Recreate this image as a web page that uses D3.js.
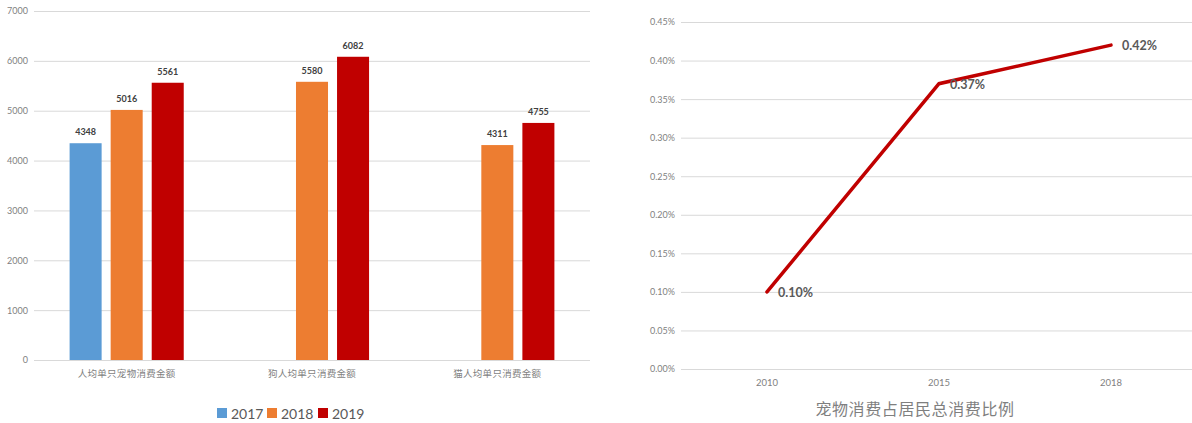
<!DOCTYPE html>
<html>
<head>
<meta charset="utf-8">
<script src="https://cdn.jsdelivr.net/npm/d3@7"></script>
<style>
  html, body { margin: 0; padding: 0; background: #fff; }
  svg { display: block; }
  .tick text { font-family: Lato, "Open Sans", sans-serif; }
</style>
</head>
<body>
<svg id="chart" width="1192" height="423"></svg>
<script>
// Per-pet spending (yuan)
const categories = ["人均单只宠物消费金额", "狗人均单只消费金额", "猫人均单只消费金额"];
const years = ["2017", "2018", "2019"];
const spend2017 = [4348, null, null];
const spend2018 = [5016, 5580, 4311];
const spend2019 = [5561, 6082, 4755];
const spendTicks = [0, 1000, 2000, 3000, 4000, 5000, 6000, 7000];

// Pet spending share of total household consumption
const shareYears = ["2010", "2015", "2018"];
const shareValues = [0.0010, 0.0037, 0.0042];
const shareTicks = [0, 0.0005, 0.0010, 0.0015, 0.0020, 0.0025, 0.0030, 0.0035, 0.0040, 0.0045];
const shareTitle = "宠物消费占居民总消费比例";

const yearColors = ["#5b9bd5", "#ed7d31", "#c00000"];
const gridColor = "#d9d9d9";
const tickColor = "#7f7f7f";
const labelColor = "#404040";
const latin = "Lato, 'Open Sans', sans-serif";
const cjk = "'Noto Sans CJK SC', sans-serif";

const svg = d3.select("#chart");

// ---------- Left: grouped bars ----------
{
  const left = 34, right = 590, top = 11, bottom = 360;
  const x0 = d3.scaleBand().domain(categories).range([left, right]).paddingInner(0).paddingOuter(0);
  const x1 = d3.scaleBand().domain(years).range([35.6, x0.bandwidth() - 35.6]).paddingInner(0.22);
  const y = d3.scaleLinear().domain([0, 7000]).range([bottom, top]);

  const yAxis = d3.axisLeft(y).tickValues(spendTicks).tickFormat(d3.format("d"))
    .tickSize(-(right - left)).tickPadding(6);
  const gy = svg.append("g").attr("transform", `translate(${left},0)`).call(yAxis);
  gy.select(".domain").remove();
  gy.selectAll(".tick line").attr("stroke", gridColor).attr("stroke-width", 1);
  gy.selectAll(".tick text").attr("fill", tickColor).style("font-size", "9px");

  const series = [spend2017, spend2018, spend2019];
  const rows = [];
  categories.forEach((c, i) => {
    years.forEach((yr, j) => {
      const v = series[j][i];
      if (v != null) rows.push({ c, yr, v, color: yearColors[j] });
    });
  });

  svg.append("g").selectAll("rect").data(rows).join("rect")
    .attr("x", d => x0(d.c) + x1(d.yr))
    .attr("width", x1.bandwidth())
    .attr("y", d => y(d.v))
    .attr("height", d => y(0) - y(d.v))
    .attr("fill", d => d.color);

  svg.append("g").selectAll("text").data(rows).join("text")
    .attr("x", d => x0(d.c) + x1(d.yr) + x1.bandwidth() / 2)
    .attr("y", d => y(d.v) - 8)
    .attr("text-anchor", "middle")
    .attr("font-family", latin)
    .attr("font-weight", "bold")
    .attr("font-size", 9)
    .attr("fill", labelColor)
    .text(d => d.v);

  svg.append("g").selectAll("text").data(categories).join("text")
    .attr("x", d => x0(d) + x0.bandwidth() / 2)
    .attr("y", 377)
    .attr("text-anchor", "middle")
    .attr("font-family", cjk)
    .attr("font-size", 9.5)
    .attr("letter-spacing", 0.3)
    .attr("fill", tickColor)
    .text(d => d);

  // legend
  const legend = svg.append("g");
  const lx = [217, 267, 318];
  years.forEach((yr, j) => {
    legend.append("rect")
      .attr("x", lx[j]).attr("y", 408).attr("width", 10).attr("height", 10)
      .attr("fill", yearColors[j]);
    legend.append("text")
      .attr("x", lx[j] + 14).attr("y", 418.5)
      .attr("font-family", latin).attr("font-size", 14)
      .attr("fill", "#595959")
      .text(yr);
  });
}

// ---------- Right: share line ----------
{
  const left = 681, right = 1197, top = 22, bottom = 369;
  const x = d3.scaleBand().domain(shareYears).range([left, right]);
  const y = d3.scaleLinear().domain([0, 0.0045]).range([bottom, top]);
  const cx = d => x(d) + x.bandwidth() / 2;

  const yAxis = d3.axisLeft(y).tickValues(shareTicks).tickFormat(d3.format(".2%"))
    .tickSize(-(right - left)).tickPadding(6);
  const gy = svg.append("g").attr("transform", `translate(${left},0)`).call(yAxis);
  gy.select(".domain").remove();
  gy.selectAll(".tick line").attr("stroke", gridColor).attr("stroke-width", 1);
  gy.selectAll(".tick text").attr("fill", tickColor).style("font-size", "9px");

  svg.append("g").selectAll("text").data(shareYears).join("text")
    .attr("x", d => cx(d))
    .attr("y", 386)
    .attr("text-anchor", "middle")
    .attr("font-family", latin)
    .attr("font-size", 9.5)
    .attr("fill", tickColor)
    .text(d => d);

  const pts = shareYears.map((d, i) => ({ yr: d, v: shareValues[i] }));
  const line = d3.line().x(d => cx(d.yr)).y(d => y(d.v));
  svg.append("path")
    .datum(pts)
    .attr("d", line)
    .attr("fill", "none")
    .attr("stroke", "#c00000")
    .attr("stroke-width", 3.5)
    .attr("stroke-linejoin", "miter")
    .attr("stroke-linecap", "round");

  svg.append("g").selectAll("text").data(pts).join("text")
    .attr("x", d => cx(d.yr) + 11)
    .attr("y", d => y(d.v) + 5)
    .attr("font-family", latin)
    .attr("font-weight", "bold")
    .attr("font-size", 12.5)
    .attr("fill", "#595959")
    .text(d => d3.format(".2%")(d.v));

  svg.append("text")
    .attr("x", 915)
    .attr("y", 415)
    .attr("text-anchor", "middle")
    .attr("font-family", cjk)
    .attr("font-size", 16)
    .attr("letter-spacing", 0.6)
    .attr("fill", "#7f7f7f")
    .text(shareTitle);
}
</script>
</body>
</html>
